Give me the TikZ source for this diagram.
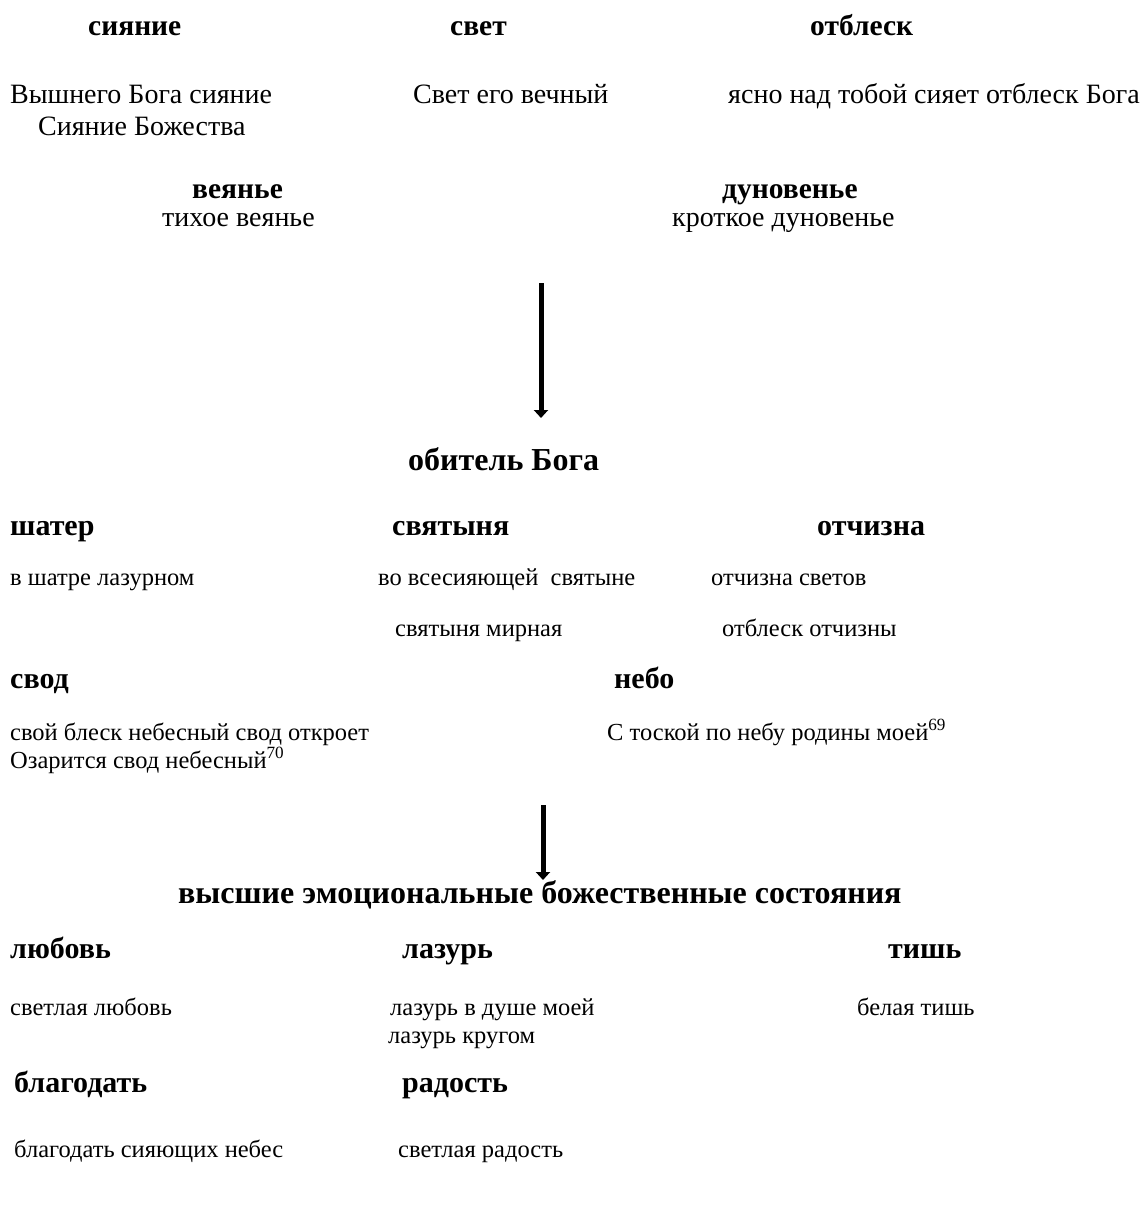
\documentclass[tikz,border=0pt]{standalone}
\usepackage{fontspec}
\setmainfont{Liberation Serif}
\usetikzlibrary{arrows.meta}
\tikzset{
  t/.style={anchor=base west, inner sep=0pt, font=\fontsize{24.5}{29}\selectfont},
  h/.style={anchor=base west, inner sep=0pt, font=\fontsize{30}{34}\selectfont\bfseries},
  tt/.style={anchor=base west, inner sep=0pt, font=\fontsize{28}{33}\selectfont},
  th/.style={anchor=base west, inner sep=0pt, font=\fontsize{29.5}{33}\selectfont\bfseries},
  big/.style={anchor=base west, inner sep=0pt, font=\fontsize{32}{36}\selectfont\bfseries},
  bigarrow/.style={line width=5pt, -{Triangle[width=14pt,length=8pt]}}
}
\begin{document}
\begin{tikzpicture}[x=1pt,y=-1pt]
\useasboundingbox (0,0) rectangle (1147,1229);
% top block
\node[th] (siyanie) at (88,35) {сияние};
\node[th] (svet) at (450,35) {свет};
\node[th] (otblesk) at (810,35) {отблеск};
\node[tt] (s1) at (10,103) {Вышнего Бога сияние};
\node[tt] (s2) at (413,103) {Свет его вечный};
\node[tt] (s3) at (728,103) {ясно над тобой сияет отблеск Бога};
\node[tt] (s4) at (38,135) {Сияние Божества};
\node[th] (veyanie) at (192,198) {веянье};
\node[tt] (v1) at (162,226) {тихое веянье};
\node[th] (duno) at (722,198) {дуновенье};
\node[tt] (d1) at (672,226) {кроткое дуновенье};
\coordinate (a1s) at (541,283);
\coordinate (a1e) at (541,418);
\draw[bigarrow] (a1s) -- (a1e);
\node[big] (obitel) at (408,470) {обитель Бога};
% middle block
\node[h] (shater) at (10,535) {шатер};
\node[h] (svyat) at (392,535) {святыня};
\node[h] (otch) at (817,535) {отчизна};
\node[t] (m1) at (10,585) {в шатре лазурном};
\node[t] (m2) at (378,585) {во всесияющей\ \ святыне};
\node[t] (m3) at (711,585) {отчизна светов};
\node[t] (m4) at (395,636) {святыня мирная};
\node[t] (m5) at (722,636) {отблеск отчизны};
\node[h] (svod) at (10,688) {свод};
\node[h] (nebo) at (614,688) {небо};
\node[t] (n1) at (10,740) {свой блеск небесный свод откроет};
\node[t] (n2) at (607,740) {С тоской по небу родины моей\textsuperscript{69}};
\node[t] (n3) at (10,768) {Озарится свод небесный\textsuperscript{70}};
\coordinate (a2s) at (543,805);
\coordinate (a2e) at (543,880);
\draw[bigarrow] (a2s) -- (a2e);
\node[big] (vys) at (178,903) {высшие эмоциональные божественные состояния};
% bottom block
\node[h] (lub) at (10,958) {любовь};
\node[h] (laz) at (402,958) {лазурь};
\node[h] (tish) at (888,958) {тишь};
\node[t] (b1) at (10,1015) {светлая любовь};
\node[t] (b2) at (390,1015) {лазурь в душе моей};
\node[t] (b3) at (857,1015) {белая тишь};
\node[t] (b4) at (388,1043) {лазурь кругом};
\node[h] (blag) at (14,1092) {благодать};
\node[h] (rad) at (402,1092) {радость};
\node[t] (b5) at (14,1157) {благодать сияющих небес};
\node[t] (b6) at (398,1157) {светлая радость};
\end{tikzpicture}
\end{document}
